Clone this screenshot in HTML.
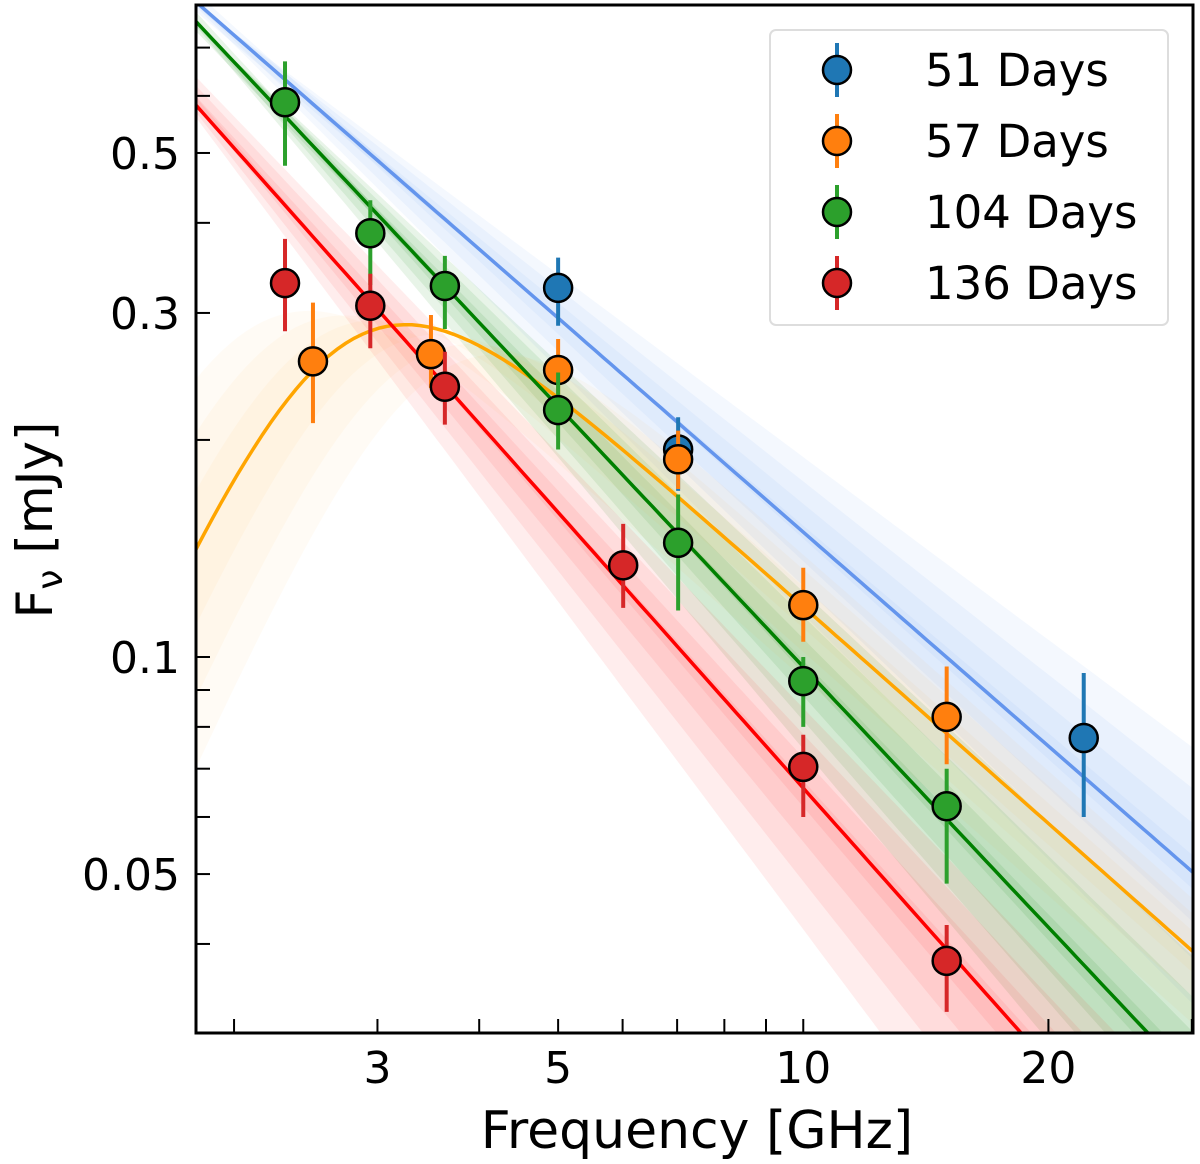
<!DOCTYPE html>
<html><head><meta charset="utf-8"><style>
html,body{margin:0;padding:0;background:#fff;overflow:hidden;}
svg{display:block;}
svg text{font-family:"DejaVu Sans","Liberation Sans",sans-serif;}
</style></head><body>
<svg id="chart" width="1200" height="1164" viewBox="0 0 1200 1164" xmlns="http://www.w3.org/2000/svg">
<defs><clipPath id="clip"><rect x="196" y="5" width="997" height="1028"/></clipPath></defs>
<g id="bands" clip-path="url(#clip)"></g>
<g id="lines" clip-path="url(#clip)"></g>
<g id="points"></g>
<rect x="196" y="5" width="997" height="1028" fill="none" stroke="#000" stroke-width="3"/>
<g id="ticks"></g>
<text x="697" y="1148" font-size="52" text-anchor="middle">Frequency [GHz]</text>
<text transform="translate(52,520) rotate(-90)" font-size="50" text-anchor="middle">F<tspan font-size="36" dy="10">ν</tspan><tspan dy="-10"> [mJy]</tspan></text>
<g id="legend"></g>
</svg>
<script>
const xTicksMajor=[3,5,10,20];
const xTicksMinor=[2,4,6,7,8,9,30];
const yTicksMajor=[0.05,0.1,0.3,0.5];
const yTickLabels=["0.05","0.1","0.3","0.5"];
const yTicksMinor=[0.04,0.06,0.07,0.08,0.09,0.2,0.4,0.6,0.7];
const seriesNames=["51 Days","57 Days","104 Days","136 Days"];
const blueFreq=[5,7.02,22.1];
const blueFlux=[0.325,0.194,0.0772];
const blueLo=[0.288,0.17,0.060];
const blueHi=[0.358,0.215,0.095];
const orangeFreq=[2.5,3.49,5,7.02,10,15];
const orangeFlux=[0.257,0.263,0.25,0.188,0.118,0.0826];
const orangeLo=[0.211,0.236,0.228,0.171,0.105,0.071];
const orangeHi=[0.31,0.298,0.276,0.206,0.133,0.097];
const greenFreq=[2.31,2.94,3.63,5,7.02,10,15];
const greenFlux=[0.588,0.387,0.327,0.22,0.144,0.0926,0.0621];
const greenLo=[0.48,0.328,0.285,0.194,0.116,0.08,0.0485];
const greenHi=[0.67,0.43,0.36,0.248,0.168,0.1,0.07];
const redFreq=[2.31,2.94,3.63,6.01,10,15];
const redFlux=[0.33,0.307,0.237,0.134,0.0704,0.0379];
const redLo=[0.283,0.268,0.21,0.117,0.06,0.0322];
const redHi=[0.38,0.34,0.265,0.153,0.078,0.0425];
const fitAmp=[0.149,0,0.0969,0.0658];
const fitIndex=[-0.986,0,-1.2,-1.27];
const orangePeakFreq=3.25, orangePeakFlux=0.289;

const NS="http://www.w3.org/2000/svg";
const xmin=Math.log10(1.796), xmax=Math.log10(30.1), ymin=Math.log10(0.0301), ymax=Math.log10(0.802);
const L=196,R=1193,T=5,B=1033;
function X(v){return L+(Math.log10(v)-xmin)/(xmax-xmin)*(R-L);}
function Y(v){return B-(Math.log10(v)-ymin)/(ymax-ymin)*(B-T);}
function mk(tag,attrs,parent){const e=document.createElementNS(NS,tag);for(const k in attrs)e.setAttribute(k,attrs[k]);parent.appendChild(e);return e;}
const gb=document.getElementById('bands'),gl=document.getElementById('lines'),gp=document.getElementById('points'),gt=document.getElementById('ticks'),gleg=document.getElementById('legend');
const markColors=["#1f77b4","#ff7f0e","#2ca02c","#d62728"];
const lineColors=["#6495ed","#ffa500","#008000","#ff0000"];
const freqs=[];for(let i=0;i<=120;i++)freqs.push(Math.pow(10,xmin+(xmax-xmin)*i/120));
function g(x){const s=1.5;return Math.pow(Math.pow(x,-2.5*s)+Math.pow(x,1.0*s),-1/s);}
let xp=1,gm=0;for(let x=0.3;x<4;x+=0.001){const v=g(x);if(v>gm){gm=v;xp=x;}}
function orangeF(nu,shift,scale){return orangePeakFlux*scale*g(xp*nu/(orangePeakFreq*shift))/gm;}
function plF(k,nu,dA,dI){return fitAmp[k]*dA*Math.pow(nu/10,fitIndex[k]+dI);}
function path(fn){return freqs.map((f,i)=>(i?'L':'M')+X(f).toFixed(1)+','+Y(fn(f)).toFixed(1)).join(' ');}
function band(fnLo,fnHi,color,op,name){
  const up=freqs.map(f=>X(f).toFixed(1)+','+Y(fnHi(f)).toFixed(1));
  const dn=freqs.slice().reverse().map(f=>X(f).toFixed(1)+','+Y(fnLo(f)).toFixed(1));
  const p=mk('polygon',{points:up.concat(dn).join(' '),fill:color,'fill-opacity':op},gb);
  
  
}
const spreads=[0.05,0.1,0.16,0.24];
[0,2,3].forEach(k=>{
  spreads.forEach((s,j)=>{
    const piv=k===3?3:5;
    band(f=>plF(k,f,1,0)*Math.pow(f/piv,-s*(k===3?1:0.6))*(1-0.05*j),
         f=>plF(k,f,1,0)*Math.pow(f/piv,s*(k===3?0.4:0.6))*(1+0.05*j),
         lineColors[k],k===2?0.09:0.07,'band-'+k);
  });
});
[0.1,0.2,0.3].forEach(s=>{
  band(f=>orangeF(f,1+s,1-s*0.3),f=>orangeF(f,1-s*0.8,1+s*0.15),'#ffa500',0.04,'band-orange');
});
[0,1,2,3].forEach(k=>{
  const fn=k===1?(f=>orangeF(f,1,1)):(f=>plF(k,f,1,0));
  const p=mk('path',{d:path(fn),fill:'none',stroke:lineColors[k],'stroke-width':3.5},gl);
  
  
});
const sets=[[blueFreq,blueFlux,blueLo,blueHi],[orangeFreq,orangeFlux,orangeLo,orangeHi],[greenFreq,greenFlux,greenLo,greenHi],[redFreq,redFlux,redLo,redHi]];
sets.forEach((s,k)=>{
  s[0].forEach((f,i)=>{
    const e=mk('line',{x1:X(f),x2:X(f),y1:Y(s[2][i]),y2:Y(s[3][i]),stroke:markColors[k],'stroke-width':4},gp);
    
    
    const c=mk('circle',{cx:X(f),cy:Y(s[1][i]),r:14,fill:markColors[k],stroke:'#000','stroke-width':2.5},gp);
    
    
  });
});
function xt(v,len){mk('line',{x1:X(v),x2:X(v),y1:B,y2:B-len,stroke:'#000','stroke-width':2},gt);}
function yt(v,len){mk('line',{x1:L,x2:L+len,y1:Y(v),y2:Y(v),stroke:'#000','stroke-width':2},gt);}
xTicksMinor.forEach(v=>xt(v,14));
xTicksMajor.forEach(v=>{xt(v,14);const t=mk('text',{x:X(v),y:1083,'font-size':44,'text-anchor':'middle'},gt);t.textContent=v;});
yTicksMinor.forEach(v=>yt(v,14));
yTicksMajor.forEach((v,i)=>{yt(v,14);const t=mk('text',{x:180,y:Y(v)+16,'font-size':44,'text-anchor':'end'},gt);t.textContent=yTickLabels[i];});
const lb=mk('rect',{x:770,y:30,width:398,height:295,rx:6,fill:'#fff','fill-opacity':0.8,stroke:'#ddd','stroke-width':2},gleg);


seriesNames.forEach((n,k)=>{
  const y=70+k*71;
  mk('line',{x1:837,x2:837,y1:y-27,y2:y+27,stroke:markColors[k],'stroke-width':4},gleg);
  mk('circle',{cx:837,cy:y,r:14,fill:markColors[k],stroke:'#000','stroke-width':2.5},gleg);
  const t=mk('text',{x:925,y:y+16,'font-size':45},gleg);t.textContent=n;
  
  
});
</script>
</body></html>
